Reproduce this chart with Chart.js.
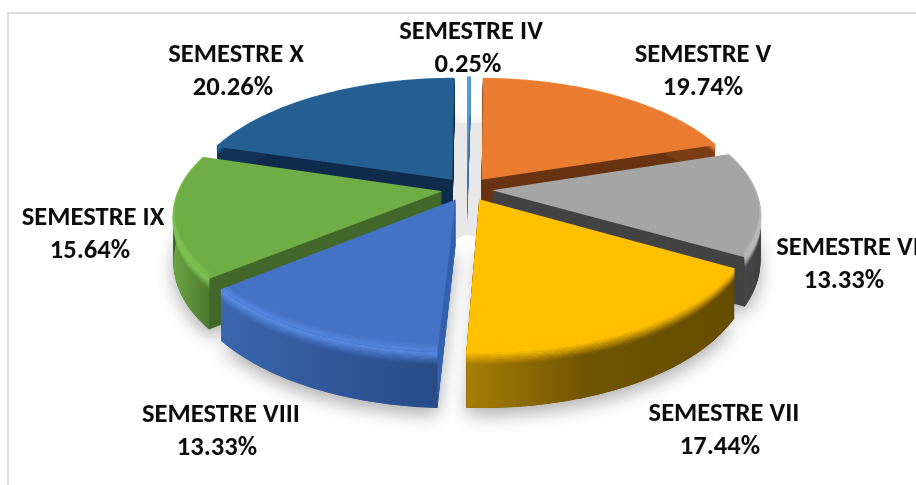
<!DOCTYPE html>
<html>
<head>
<meta charset="utf-8">
<script src="https://cdn.jsdelivr.net/npm/chart.js@4"></script>
<style>
html,body{margin:0;padding:0;background:#fff;width:916px;height:485px;overflow:hidden}
#frame{position:absolute;left:7px;top:12px;width:940px;height:500px;border:2px solid #dcdcdc;box-sizing:border-box}
#wrap{position:absolute;left:0;top:0;width:916px;height:485px}
</style>
</head>
<body>
<div id="frame"></div>
<div id="wrap"><canvas id="c" width="916" height="485"></canvas></div>
<script>
const categories = ["SEMESTRE IV","SEMESTRE V","SEMESTRE VI","SEMESTRE VII","SEMESTRE VIII","SEMESTRE IX","SEMESTRE X"];
const percentages = [0.25,19.74,13.33,17.44,13.33,15.64,20.26];
const topColors = ["#5b9bd5","#e97c30","#a5a5a5","#ffc000","#4472c4","#70ad47","#255e91"];
const innerColors = ["#3f76a8","#693412","#434343","#5f4800","#3562ae","#43682b","#0f2c4c"];
const wallStops = [
  [[0,"#5b9bd5"],[1,"#5b9bd5"]],
  [[0,"#7a3d14"],[1,"#7a3d14"]],
  [[0,"#4f4f4f"],[1,"#3f3f3f"]],
  [[0,"#a67e06"],[0.45,"#6f5402"],[1,"#654c00"]],
  [[0,"#3a66ad"],[0.6,"#2f5596"],[1,"#284b86"]],
  [[0,"#6aa542"],[1,"#4c7830"]],
  [[0,"#123354"],[1,"#123354"]]
];
const rimColors = ["#5b9bd5","#f08a40","#bdbdbd","#ffc000","#5a8de6","#80c455","#2c6ba5"];
const labelCenters = [[471,32],[703,55],[848,248],[724,414],[221,415],[93,218],[236,55]];
const valueShifts = [-3,0,-4,-4,-4,-3,-3];
const labelLineGap = 33;
const labelFont = "700 26.6px Carlito, Lato, sans-serif";
const view = {cx:467,cy:189,rx:263,ry:122,persp:0.176,xPersp:1,depth:45,rim:11,bevel:7};

function project(ux,vy){
  const s=1/(1-view.persp*vy);
  return {x:view.cx+view.rx*ux*Math.pow(s,view.xPersp),y:view.cy+view.ry*vy*s,s};
}
function outline(arc,off,flat){
  const {startAngle:a0,endAngle:a1,outerRadius:R,options}=arc;
  const mid=(a0+a1)/2, e=flat?0:(options.offset||0)/R;
  const ex=e*Math.cos(mid), ey=e*Math.sin(mid);
  const rimPts=[];
  const n=Math.max(2,Math.ceil((a1-a0)*60));
  for(let j=0;j<=n;j++){
    const a=a0+(a1-a0)*j/n;
    const u=Math.cos(a)+ex, v=Math.sin(a)+ey;
    const p=project(u,v);
    rimPts.push({x:p.x,y:p.y+off*p.s,v:Math.sin(a)});
  }
  const c=project(ex,ey);
  return {apex:{x:c.x,y:c.y+off*c.s},rim:rimPts};
}
function tracePoly(ctx,o){
  ctx.beginPath();
  ctx.moveTo(o.apex.x,o.apex.y);
  o.rim.forEach(p=>ctx.lineTo(p.x,p.y));
  ctx.closePath();
}
function strokeRim(ctx,o,minV){
  ctx.beginPath();
  let pen=false;
  o.rim.forEach(p=>{
    if(p.v<minV){pen=false;return;}
    pen?ctx.lineTo(p.x,p.y):ctx.moveTo(p.x,p.y);
    pen=true;
  });
  ctx.stroke();
}
const pie3d={
  id:"pie3d",
  beforeDatasetsDraw(chart){
    const ctx=chart.ctx;
    const arcs=chart.getDatasetMeta(0).data;
    const midV=k=>Math.sin((arcs[k].startAngle+arcs[k].endAngle)/2);
    const order=arcs.map((a,i)=>i).sort((i,j)=>midV(i)-midV(j));
    // ground shadow
    ctx.save();
    ctx.shadowColor="rgba(0,0,0,0.32)";
    ctx.shadowBlur=18;
    ctx.shadowOffsetY=7;
    ctx.fillStyle="#ddd";
    order.forEach(i=>{ tracePoly(ctx,outline(arcs[i],view.depth)); ctx.fill(); });
    ctx.restore();
    // floor seen through the gaps between the rear slices
    ctx.fillStyle="#e8e8e8";
    ctx.strokeStyle="#e8e8e8";
    ctx.lineWidth=1;
    order.filter(i=>midV(i)<0.5).forEach(i=>{ tracePoly(ctx,outline(arcs[i],view.depth,true)); ctx.fill(); ctx.stroke(); });
    order.forEach(i=>{
      const arc=arcs[i];
      // radial walls: stacked copies of the slice
      ctx.fillStyle=innerColors[i];
      for(let k=view.depth;k>0;k--){ tracePoly(ctx,outline(arc,k)); ctx.fill(); }
      // outer wall
      const t=outline(arc,0), b=outline(arc,view.depth);
      const xs=t.rim.map(p=>p.x);
      const g=ctx.createLinearGradient(Math.min(...xs),0,Math.max(...xs)+0.1,0);
      wallStops[i].forEach(s=>g.addColorStop(s[0],s[1]));
      ctx.fillStyle=g;
      ctx.beginPath();
      t.rim.forEach((p,j)=>j?ctx.lineTo(p.x,p.y):ctx.moveTo(p.x,p.y));
      b.rim.slice().reverse().forEach(p=>ctx.lineTo(p.x,p.y));
      ctx.closePath();
      ctx.fill();
      // rounded rim highlight
      ctx.strokeStyle=rimColors[i];
      ctx.lineWidth=1.6;
      for(let k=view.rim;k>=0;k--){
        ctx.globalAlpha=Math.pow(1-k/view.rim,1.4);
        strokeRim(ctx,outline(arc,k),-2);
      }
      ctx.globalAlpha=1;
      // top face
      ctx.fillStyle=arc.options.backgroundColor;
      tracePoly(ctx,t);
      ctx.fill();
      // soft bevel just inside the front edge of the top face
      ctx.save();
      tracePoly(ctx,t);
      ctx.clip();
      for(let k=view.bevel;k>=1;k--){
        ctx.globalAlpha=0.7*(1-k/(view.bevel+1));
        strokeRim(ctx,outline(arc,-k),-0.2);
      }
      ctx.restore();
    });
    return false;
  },
  afterDraw(chart){
    const ctx=chart.ctx;
    ctx.save();
    ctx.font=labelFont;
    ctx.textAlign="center";
    ctx.textBaseline="middle";
    ctx.fillStyle="#0d0d0d";
    categories.forEach((name,i)=>{
      const [x,y]=labelCenters[i];
      ctx.fillText(name,x,y);
      ctx.fillText(percentages[i].toFixed(2)+"%",x+valueShifts[i],y+labelLineGap);
    });
    ctx.restore();
  }
};
new Chart(document.getElementById("c"),{
  type:"pie",
  data:{labels:categories,datasets:[{data:percentages,backgroundColor:topColors,borderWidth:0,offset:22}]},
  options:{
    responsive:false,
    animation:false,
    events:[],
    plugins:{legend:{display:false},tooltip:{enabled:false}}
  },
  plugins:[pie3d]
});
</script>
</body>
</html>
